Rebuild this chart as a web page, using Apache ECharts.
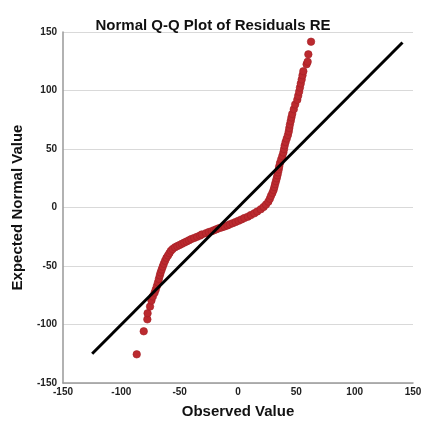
<!DOCTYPE html>
<html>
<head>
<meta charset="utf-8">
<script src="https://cdn.jsdelivr.net/npm/echarts@6/dist/echarts.min.js"></script>
<style>html,body{margin:0;padding:0;background:#fff}#c{width:426px;height:428px}</style>
</head>
<body>
<div id="c"></div>
<script>
var expected = [-125.5,-105.8,-95.6,-90.4,-84.7,-79.5,-76,-72.8,-70,-67,-64,-61,-58,-55.5,-53,-50.5,-48,-45.5,-43,-41,-39,-37,-35.5,-34,-33,-32,-31,-30,-29,-28,-27,-26,-25,-24,-23,-22,-21,-20.2,-19.4,-18.6,-17.8,-17,-16.2,-15.3,-14.4,-13.4,-12.4,-11.3,-10.2,-9,-7.8,-6.5,-5,-3.4,-1.5,0.5,2.5,5,7.5,10,12.5,15,17.5,20,22.5,25,27.5,30,32.5,35,38,41,44,47,50,53,56,59,62,65,68,71,74,77,80,84,88,92,95.5,99,102.5,106,109.5,113,116.5,122.4,124.6,130.9,141.7];
var observed = [-86.8,-80.8,-77.7,-77.5,-75.4,-74.2,-73,-71.5,-70.5,-69.5,-68.6,-67.8,-67,-66.3,-65.4,-64.5,-63.6,-62.5,-61.3,-60,-58.8,-57.5,-56,-54,-52,-50,-48,-46,-44,-42,-40,-37.5,-35,-32.5,-31,-27.5,-25,-22.5,-20.5,-18.5,-16.5,-14,-11.5,-9,-7,-4.5,-2,0.5,3,5.5,8.5,11,14,16.5,19.5,22,24,26,27.3,28.3,29.5,30.5,31.2,31.8,32.5,33.2,33.8,34.3,34.9,35.3,36,37,38,38.9,39.5,40,40.8,41.8,42.8,43.5,44,44.5,45.2,45.8,46.5,47.8,49,50.8,51.6,52.4,53.1,53.8,54.6,55.3,56,58.8,59.7,60.3,62.6];
var refLineX = [-125, 141];
var refLineY = [-125, 141];
var axisTicks = [-150, -100, -50, 0, 50, 100, 150];

var pts = observed.map(function (x, i) { return [x, expected[i]]; });
var linePts = refLineX.map(function (x, i) { return [x, refLineY[i]]; });

var chart = echarts.init(document.getElementById('c'), null, {renderer: 'canvas'});
var lblFont = {fontFamily: 'Liberation Sans', fontSize: 10, fontWeight: 'bold', color: '#222'};
var nameFont = {fontFamily: 'Liberation Sans', fontSize: 15, fontWeight: 'bold', color: '#111'};
chart.setOption({
  animation: false,
  backgroundColor: '#fff',
  title: {
    text: 'Normal Q-Q Plot of Residuals RE',
    left: 'center', top: 13,
    textStyle: {fontFamily: 'Liberation Sans', fontSize: 15, fontWeight: 'bold', color: '#111'}
  },
  grid: {left: 63, right: 13, top: 32, bottom: 45},
  xAxis: {
    type: 'value', min: axisTicks[0], max: axisTicks[axisTicks.length - 1], interval: 50,
    name: 'Observed Value', nameLocation: 'middle', nameGap: 21,
    nameTextStyle: nameFont,
    axisLine: {show: true, onZero: false, lineStyle: {color: '#999', width: 1.5}},
    axisTick: {show: false},
    splitLine: {show: false},
    axisLabel: Object.assign({margin: 4}, lblFont)
  },
  yAxis: {
    type: 'value', min: axisTicks[0], max: axisTicks[axisTicks.length - 1], interval: 50,
    name: 'Expected Normal Value', nameLocation: 'middle', nameGap: 38,
    nameTextStyle: nameFont,
    axisLine: {show: true, onZero: false, lineStyle: {color: '#999', width: 1.5}},
    axisTick: {show: false},
    splitLine: {show: true, lineStyle: {color: '#d9d9d9', width: 1}},
    axisLabel: Object.assign({margin: 6}, lblFont)
  },
  series: [
    {
      type: 'scatter', data: pts, symbolSize: 7.5, z: 2,
      itemStyle: {color: '#bb2a2f', borderColor: '#a51f25', borderWidth: 0.6, opacity: 1}
    },
    {
      type: 'line', data: linePts, symbol: 'none', z: 3,
      lineStyle: {color: '#000', width: 3}
    }
  ]
});
</script>
</body>
</html>
